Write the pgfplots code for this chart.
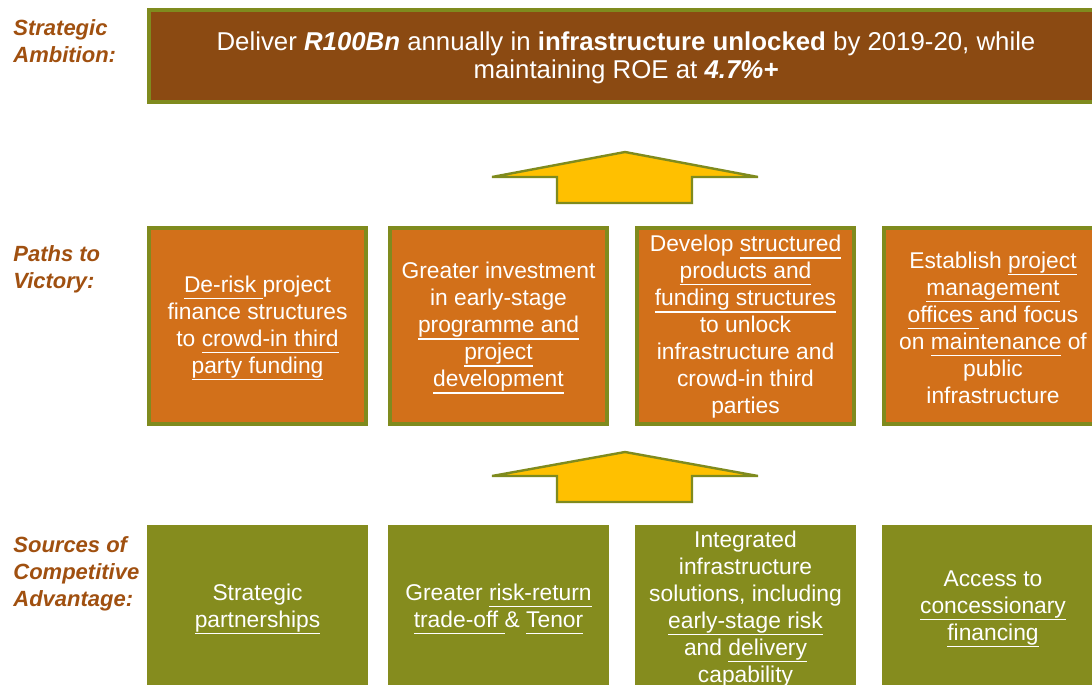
\documentclass[border=0pt]{standalone}
\usepackage{pgfplots}
\pgfplotsset{compat=1.18}
\usepackage{fontspec}
\setmainfont{Liberation Sans}
\definecolor{brownbox}{RGB}{139,74,18}
\definecolor{olivec}{RGB}{127,139,30}
\definecolor{orangebox}{RGB}{210,112,26}
\definecolor{greenbox}{RGB}{133,140,30}
\definecolor{arrowy}{RGB}{255,192,0}
\definecolor{labelc}{RGB}{160,80,16}
\newcommand{\U}[1]{\setbox0\hbox{#1}\rlap{\rule[-3.3pt]{\wd0}{0.75pt}}\box0\relax}
\begin{document}
\begin{tikzpicture}
\begin{axis}[name=ax,
  width=546pt, height=342.5pt, scale only axis,
  xmin=0, xmax=1092, ymin=0, ymax=685, y dir=reverse,
  hide axis, clip=true]
% top box
\addplot[fill=brownbox, draw=olivec, line width=2pt, mark=none] coordinates {(149,10) (1110,10) (1110,102) (149,102)} -- cycle;
% middle boxes
\addplot[fill=orangebox, draw=olivec, line width=2pt, mark=none] coordinates {(149,228) (366,228) (366,424) (149,424)} -- cycle;
\addplot[fill=orangebox, draw=olivec, line width=2pt, mark=none] coordinates {(390,228) (607,228) (607,424) (390,424)} -- cycle;
\addplot[fill=orangebox, draw=olivec, line width=2pt, mark=none] coordinates {(637,228) (854,228) (854,424) (637,424)} -- cycle;
\addplot[fill=orangebox, draw=olivec, line width=2pt, mark=none] coordinates {(884,228) (1110,228) (1110,424) (884,424)} -- cycle;
% bottom boxes
\addplot[fill=greenbox, draw=none, mark=none] coordinates {(147,525) (368,525) (368,700) (147,700)} -- cycle;
\addplot[fill=greenbox, draw=none, mark=none] coordinates {(388,525) (609,525) (609,700) (388,700)} -- cycle;
\addplot[fill=greenbox, draw=none, mark=none] coordinates {(635,525) (856,525) (856,700) (635,700)} -- cycle;
\addplot[fill=greenbox, draw=none, mark=none] coordinates {(882,525) (1110,525) (1110,700) (882,700)} -- cycle;
% arrows
\addplot[fill=arrowy, draw=olivec, line width=1.2pt, mark=none] coordinates {(557,203) (557,177) (492,177) (625,152) (758,177) (692,177) (692,203)} -- cycle;
\addplot[fill=arrowy, draw=olivec, line width=1.2pt, mark=none] coordinates {(557,502) (557,476) (492,476) (625,452) (758,476) (692,476) (692,502)} -- cycle;
% labels
\node[anchor=west, inner sep=0pt, align=left, text=labelc, font=\fontsize{11}{13.5}\selectfont\bfseries\itshape] at (axis cs:13,41.5) {Strategic\\Ambition:};
\node[anchor=west, inner sep=0pt, align=left, text=labelc, font=\fontsize{11}{13.5}\selectfont\bfseries\itshape] at (axis cs:13,269.5) {Paths to\\Victory:};
\node[anchor=west, inner sep=0pt, align=left, text=labelc, font=\fontsize{11}{13.5}\selectfont\bfseries\itshape] at (axis cs:13,573.5) {Sources of\\Competitive\\Advantage:};
% top text
\node[inner sep=0pt, align=center, text=white, font=\fontsize{12.9}{14}\selectfont] at (axis cs:626,58) {Deliver \textbf{\textit{R100Bn}} annually in \textbf{infrastructure unlocked} by 2019-20, while\\maintaining ROE at \textbf{\textit{4.7\%+}}};
% middle texts
\node[inner sep=0pt, align=center, text=white, font=\fontsize{11.4}{13.5}\selectfont] at (axis cs:257.5,328) {\U{De-risk\ }project\\finance structures\\to \U{crowd-in third}\\\U{party funding}};
\node[inner sep=0pt, align=center, text=white, font=\fontsize{11.4}{13.5}\selectfont] at (axis cs:498.5,328) {Greater investment\\in early-stage\\\U{programme and}\\\U{project}\\\U{development}};
\node[inner sep=0pt, align=center, text=white, font=\fontsize{11.4}{13.5}\selectfont] at (axis cs:745.5,327) {Develop \U{structured}\\\U{products and}\\\U{funding structures}\\to unlock\\infrastructure and\\crowd-in third\\parties};
\node[inner sep=0pt, align=center, text=white, font=\fontsize{11.4}{13.5}\selectfont] at (axis cs:993,328) {Establish \U{project}\\\U{management}\\\U{offices\ }and focus\\on \U{maintenance} of\\public\\infrastructure};
% bottom texts
\node[inner sep=0pt, align=center, text=white, font=\fontsize{11.4}{13.5}\selectfont] at (axis cs:257.5,609) {Strategic\\\U{partnerships}};
\node[inner sep=0pt, align=center, text=white, font=\fontsize{11.4}{13.5}\selectfont] at (axis cs:498.5,609) {Greater \U{risk-return}\\\U{trade-off\ }\& \U{Tenor}};
\node[inner sep=0pt, align=center, text=white, font=\fontsize{11.4}{13.5}\selectfont] at (axis cs:745.5,609) {Integrated\\infrastructure\\solutions, including\\\U{early-stage risk}\\and \U{delivery}\\capability};
\node[inner sep=0pt, align=center, text=white, font=\fontsize{11.4}{13.5}\selectfont] at (axis cs:993,609) {Access to\\\U{concessionary}\\\U{financing}};
\end{axis}
\pgfresetboundingbox
\path[use as bounding box] (ax.south west) rectangle (ax.north east);
\end{tikzpicture}
\end{document}
